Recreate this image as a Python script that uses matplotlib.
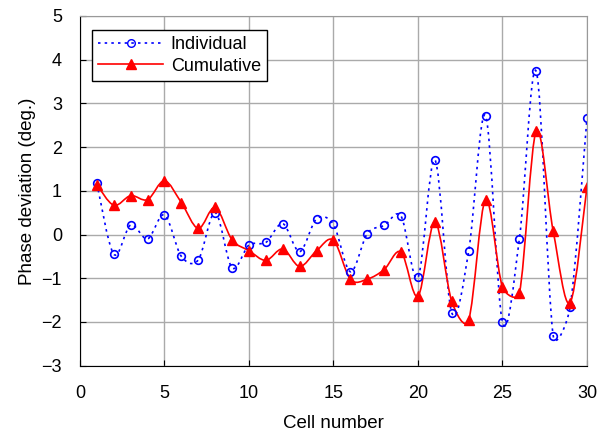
import numpy as np
import matplotlib
matplotlib.use("Agg")
import matplotlib.pyplot as plt
from matplotlib.path import Path
from matplotlib.patches import PathPatch
from matplotlib.lines import Line2D

plt.rcParams["font.family"] = ["Liberation Sans", "DejaVu Sans"]

cells = np.arange(1, 31)
individual = [1.17, -0.45, 0.22, -0.10, 0.45, -0.50, -0.58, 0.50, -0.76, -0.24,
              -0.18, 0.25, -0.39, 0.36, 0.23, -0.85, 0.02, 0.21, 0.42, -0.98,
              1.71, -1.79, -0.38, 2.72, -2.00, -0.10, 3.73, -2.31, -1.66, 2.66]
cumulative = [1.14, 0.67, 0.89, 0.80, 1.23, 0.73, 0.14, 0.62, -0.12, -0.37,
              -0.59, -0.33, -0.73, -0.37, -0.13, -1.02, -1.02, -0.80, -0.40, -1.41,
              0.29, -1.53, -1.95, 0.80, -1.20, -1.34, 2.37, 0.08, -1.56, 1.09]


def smooth_path(ax, x, y):
    # spreadsheet-style smoothed line: Bezier segments through every point,
    # control arms worked out in screen space and capped at half a segment
    p = ax.transData.transform(np.column_stack([x, y]))
    verts = [p[0]]
    codes = [Path.MOVETO]
    n = len(p)
    for i in range(n - 1):
        p0 = p[i - 1] if i > 0 else p[i]
        p3 = p[i + 2] if i + 2 < n else p[i + 1]
        d12 = np.hypot(*(p[i + 1] - p[i]))
        d02 = np.hypot(*(p[i + 1] - p0))
        d13 = np.hypot(*(p3 - p[i]))
        f0 = min(1 / 6, d12 / (2 * d02)) if d02 > 0 else 0
        f1 = min(1 / 6, d12 / (2 * d13)) if d13 > 0 else 0
        c1 = p[i] + (p[i + 1] - p0) * f0
        c2 = p[i + 1] - (p3 - p[i]) * f1
        verts += [c1, c2, p[i + 1]]
        codes += [Path.CURVE4] * 3
    verts = ax.transData.inverted().transform(np.array(verts))
    return Path(verts, codes)


fig = plt.figure(figsize=(6, 4.32), dpi=100)
ax = fig.add_axes([0.1333, 0.1535, 0.845, 0.8095])
ax.set_xlim(0, 30)
ax.set_ylim(-3, 5)

ax.add_patch(PathPatch(smooth_path(ax, cells, individual), fill=False,
                       edgecolor="blue", linestyle=(0, (1.5, 2.5)), lw=1.2))
ax.add_patch(PathPatch(smooth_path(ax, cells, cumulative), fill=False,
                       edgecolor="red", lw=1.2))
ax.plot(cells, individual, "o", mfc="none", mec="blue", ms=5.5, mew=1.2)
ax.plot(cells, cumulative, "^", color="red", ms=7)

ax.set_xticks(range(0, 31, 5))
ax.set_yticks(range(-3, 6))
ax.grid(True, color="#aaaaaa", lw=1)
ax.set_axisbelow(True)
ax.tick_params(direction="in", labelsize=13, length=4)
ax.tick_params(axis="x", pad=14)
ax.tick_params(axis="y", pad=13)
for s in ("top", "right"):
    ax.spines[s].set_color("#999999")
ax.set_xlabel("Cell number", fontsize=13.5, labelpad=9)
ax.set_ylabel("Phase deviation (deg.)", fontsize=13.5, labelpad=4)

handles = [
    Line2D([0], [0], color="blue", ls=(0, (1.5, 2.5)), lw=1.2, marker="o",
           mfc="none", mec="blue", ms=5.5, label="Individual"),
    Line2D([0], [0], color="red", lw=1.2, marker="^", ms=7, label="Cumulative"),
]
leg = ax.legend(handles=handles, loc="upper left", bbox_to_anchor=(0.024, 0.96),
                borderaxespad=0, fontsize=13, fancybox=False, framealpha=1,
                edgecolor="black", handlelength=3.6, handletextpad=0.4,
                borderpad=0.35, labelspacing=0.25)
leg.get_frame().set_linewidth(1.0)

fig.savefig("out.png", dpi=100)
